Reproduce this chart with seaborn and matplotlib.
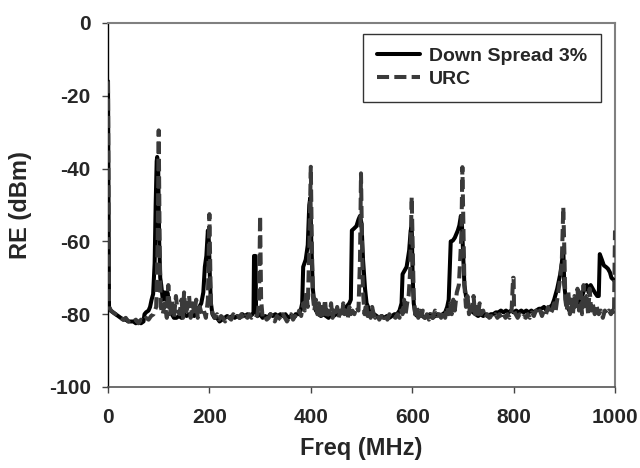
import matplotlib
matplotlib.use("Agg")
import matplotlib.pyplot as plt
import seaborn as sns
import pandas as pd
from matplotlib.lines import Line2D

# ---------------- data ----------------
ds_freq = [0, 2, 5, 10, 15, 20, 25, 30, 35, 40, 45, 50, 55, 60, 65, 70, 72, 75, 80, 83, 86, 89, 92, 94, 96, 97, 99,
           101, 103, 105, 108, 110, 112, 115, 117, 120, 123, 126, 130, 135, 140, 145, 150, 155, 160, 165, 170, 175,
           180, 184, 188, 191, 194, 197, 199, 201, 203, 206, 210, 215, 220, 225, 230, 235, 240, 245, 250, 255, 260,
           265, 270, 275, 280, 285, 287, 288, 291, 292, 295, 300, 305, 310, 315, 320, 325, 330, 335, 340, 345, 350,
           355, 360, 365, 370, 375, 380, 383, 385, 390, 394, 397, 399, 401, 404, 407, 410, 415, 420, 425, 430, 435,
           440, 445, 450, 455, 460, 465, 470, 476, 479, 481, 485, 490, 494, 497, 500, 503, 507, 510, 513, 517, 520,
           525, 530, 535, 540, 545, 550, 555, 560, 565, 570, 575, 579, 581, 585, 589, 594, 597, 599, 601, 603, 606,
           610, 615, 620, 625, 630, 635, 640, 645, 650, 655, 660, 665, 669, 672, 676, 680, 684, 687, 690, 693, 696,
           698, 701, 703, 706, 709, 712, 716, 720, 725, 730, 735, 740, 745, 750, 755, 760, 765, 770, 775, 780, 785,
           790, 795, 800, 805, 810, 815, 820, 825, 830, 835, 840, 845, 850, 855, 860, 865, 868, 872, 876, 880, 883,
           886, 889, 892, 895, 898, 900, 903, 906, 910, 915, 920, 925, 930, 935, 940, 944, 948, 952, 956, 960, 965,
           968, 970, 974, 978, 982, 986, 990, 993, 997, 1000]
ds_level = [-16, -78, -79, -79.5, -80, -80.5, -81, -81.5, -81.5, -82, -82, -82, -82.5, -82, -82.5, -82, -80, -79.5,
            -79, -78, -76, -74.5, -66, -50, -38, -36.8, -40,
            -60, -70, -72, -76, -75, -74, -76, -74, -76, -78, -80, -81, -81, -80.5, -81, -80, -80.5, -80, -80, -80.5,
            -79, -78, -77, -74, -67, -64, -57, -60, -70, -77, -80, -81, -81, -82, -81.5, -81, -80.5, -81, -80.5, -81,
            -80.5, -81, -80, -80.5, -80, -80.5, -80, -79.5, -64, -64, -79, -80.5, -80, -81, -80.5, -81, -80, -80.5,
            -80, -80.5, -80, -80.5, -80, -81, -80.5, -81, -80, -80, -79, -77, -67, -65, -61, -50, -48, -60, -73, -77,
            -79, -80, -80.5, -80, -80.5, -81, -80, -80.5, -80, -80, -79.5, -79, -78, -77, -76, -57, -56.5, -55.8,
            -54, -53, -55, -65, -73, -77, -78, -80, -80.5, -80, -80.5, -81, -80.5, -81, -80.5, -81, -80.5, -80, -80,
            -79, -77, -69, -68, -67, -62.5, -57, -56, -70, -77, -80, -80.5, -80, -80.5, -81, -80.5, -80, -81, -80.5,
            -80, -80.5, -80, -79.5, -78, -76, -60, -59.8, -59, -58, -57, -55.6, -53, -55, -65, -72, -75, -76, -78,
            -79, -79.5, -80, -80.5, -80, -80.5, -80, -80.5, -80, -80, -79.5, -79.5, -79, -79.5, -79, -79.5, -79,
            -79.5, -79, -79.5, -79, -79.5, -79, -79.5, -79, -79.5, -79, -78.5, -78.5, -78, -79, -78.5, -78, -77.5,
            -76, -74.5, -73, -71, -69, -66, -62, -72, -76, -78, -79, -78.5, -78, -77.5, -76, -75, -73, -72, -74, -72,
            -73, -74, -75, -75, -63.5, -65, -66.6, -67, -67.5, -68.5, -70, -70.5, -71]

urc_freq = [0, 2, 6, 10, 15, 20, 25, 30, 35, 40, 45, 50, 55, 60, 65, 70, 75, 80, 85, 90, 95, 98, 100, 102, 104, 108,
            112, 116, 119, 122, 126, 130, 134, 137, 141, 145, 148, 150, 153, 157, 160, 163, 167, 170, 174, 177, 181,
            185, 189, 193, 197, 200, 203, 207, 211, 215, 219, 223, 227, 231, 235, 239, 243, 247, 251, 255, 259, 263,
            267, 271, 275, 279, 283, 287, 291, 295, 298, 300, 302, 305, 309, 313, 317, 321, 325, 329, 333, 337, 341,
            345, 349, 353, 357, 361, 365, 369, 373, 377, 381, 385, 388, 391, 394, 397, 400, 402, 404, 407, 410, 413,
            416, 419, 422, 425, 428, 431, 434, 437, 440, 443, 446, 449, 452, 455, 458, 461, 464, 467, 470, 473, 476,
            479, 482, 486, 490, 494, 497, 499, 501, 503, 506, 509, 512, 515, 518, 521, 524, 527, 531, 535, 539, 543,
            547, 551, 555, 559, 563, 567, 571, 575, 578, 581, 584, 587, 590, 593, 596, 599, 601, 603, 606, 609, 612,
            615, 618, 621, 625, 629, 633, 637, 641, 645, 649, 653, 657, 661, 665, 669, 672, 675, 678, 681, 684, 688,
            692, 695, 697, 699, 701, 703, 706, 709, 712, 715, 718, 721, 724, 727, 730, 733, 736, 740, 744, 748, 752,
            756, 760, 764, 768, 772, 776, 780, 784, 788, 792, 796, 799, 800, 801, 804, 808, 812, 816, 820, 824, 828,
            832, 836, 840, 844, 848, 852, 856, 860, 864, 868, 872, 876, 880, 883, 886, 889, 892, 895, 898, 900, 902,
            905, 908, 911, 914, 917, 920, 923, 926, 929, 932, 935, 938, 941, 944, 947, 950, 953, 956, 960, 964, 968,
            972, 976, 980, 984, 988, 992, 995, 998, 1000]
urc_level = [-16, -78, -79, -79.5, -80, -80.5, -81, -81.5, -81, -82, -81.5, -82, -81.5, -82.5, -81.5, -82, -81,
             -81.5, -80.5, -80, -78, -60, -29.5, -62, -78, -80, -77, -81, -72, -80, -76, -81, -75, -79, -80, -76,
             -81, -74, -80, -78, -75, -81, -77, -80, -76, -81, -78, -80, -79, -81, -76, -52.5, -78, -80, -81, -80,
             -81.5, -80.5, -81, -82, -80.5, -81, -81.5, -80, -81, -80.5, -81, -80, -81.5, -80.5, -81, -80, -81,
             -80.5, -81, -80, -76, -53, -76, -81, -80.5, -81.5, -81, -80, -81, -82, -80.5, -81, -81.5, -80, -81, -82,
             -81, -80, -81.5, -80.5, -81, -79, -80.5, -77, -79, -74, -78, -62, -39.5, -60, -75, -79, -76, -80, -77,
             -81, -78, -80, -76, -81, -79, -80, -77, -81, -79, -80.5, -78, -81, -79, -81, -77, -80, -79, -81, -78,
             -80, -79, -80, -78, -79, -65, -41.3, -60, -74, -80, -77, -80.5, -79, -81, -78, -80, -81, -80, -81.5,
             -80.5, -81, -80, -81.5, -80, -81, -80.5, -81, -80, -81, -79, -80, -76, -80, -77, -75, -68, -47.8, -62,
             -75, -80, -78, -81, -79, -80.5, -79, -81, -80, -81.5, -80, -81, -79, -80.5, -80, -81, -79, -81, -78,
             -80, -77, -80, -76, -79, -74, -72, -64, -58, -39.6, -55, -72, -78, -75, -80, -77, -79, -75, -80, -78,
             -80, -77, -80, -79, -81, -80, -81, -80.5, -81, -80, -81, -80, -81, -80, -81, -80, -81, -79, -70, -70,
             -79, -80, -81, -80, -81, -80.5, -81, -80, -81, -79.5, -80.5, -79, -80, -79, -80.5, -79, -80, -78, -80,
             -79, -77, -79, -76, -73, -70, -66, -50.6, -62, -76, -79, -74, -80, -76, -80, -75, -79, -73, -79, -74,
             -80, -72, -79, -75, -80, -73, -79, -77, -80, -78, -80, -79, -81, -79, -80, -79, -80, -79, -80, -57]

x_ticks = [0, 200, 400, 600, 800, 1000]
y_ticks = [0, -20, -40, -60, -80, -100]
series_names = ["Down Spread 3%", "URC"]

# ---------------- plot ----------------
sns.set_style("white")
plt.rcParams["font.family"] = ["Liberation Sans", "DejaVu Sans"]
plt.rcParams["font.weight"] = "bold"

fig = plt.figure(figsize=(6.4, 4.68), dpi=100)
L, R, T, B = 108, 615, 23, 387
ax = fig.add_axes([L / 640, 1 - B / 468, (R - L) / 640, (B - T) / 468])

ds_df = pd.DataFrame({"freq": ds_freq, "level": ds_level})
urc_df = pd.DataFrame({"freq": urc_freq, "level": urc_level})

LW = 2.9
DASH = [3.0, 1.3]
sns.lineplot(data=ds_df, x="freq", y="level", ax=ax, color="#000000", linewidth=LW,
             estimator=None, sort=False, zorder=3)
sns.lineplot(data=urc_df, x="freq", y="level", ax=ax, color="#3a3a3a", linewidth=LW,
             estimator=None, sort=False, zorder=4)
ax.lines[-1].set_dashes(DASH)

ax.set_xlim(0, 1000)
ax.set_ylim(-100, 0)
ax.set_xticks(x_ticks)
ax.set_yticks(y_ticks)
ax.set_xticklabels([str(t) for t in x_ticks], fontsize=15, fontweight="bold")
ax.set_yticklabels([str(t) for t in y_ticks], fontsize=15, fontweight="bold")
ax.tick_params(axis="both", direction="out", length=4, width=1, color="#444444",
               bottom=True, left=True)
ax.tick_params(axis="x", pad=11)
ax.tick_params(axis="y", pad=8.5)

ax.set_xlabel("Freq (MHz)", fontsize=17, fontweight="bold")
ax.set_ylabel("RE (dBm)", fontsize=17, fontweight="bold")
ax.xaxis.set_label_coords(0.5, (B - 437) / (B - T))
ax.yaxis.set_label_coords((32 - L) / (R - L), 0.5)

for side in ["top", "right"]:
    ax.spines[side].set_color("#808080")
    ax.spines[side].set_linewidth(1.5)
ax.spines["left"].set_color("#000000")
ax.spines["left"].set_linewidth(1)
ax.spines["bottom"].set_color("#555555")
ax.spines["bottom"].set_linewidth(1.2)

handles = [Line2D([], [], color="#000000", lw=LW),
           Line2D([], [], color="#3a3a3a", lw=LW, dashes=DASH)]
leg = ax.legend(handles, series_names, loc="upper right",
                bbox_to_anchor=((601 - L) / (R - L), (B - 34) / (B - T)),
                borderaxespad=0, frameon=True, fancybox=False, shadow=False,
                prop={"size": 14, "weight": "bold"}, handlelength=2.2, handletextpad=0.5,
                labelspacing=0.28, borderpad=0.7)
leg.get_frame().set_edgecolor("#000000")
leg.get_frame().set_linewidth(1.0)

fig.savefig("out.png", dpi=100)
